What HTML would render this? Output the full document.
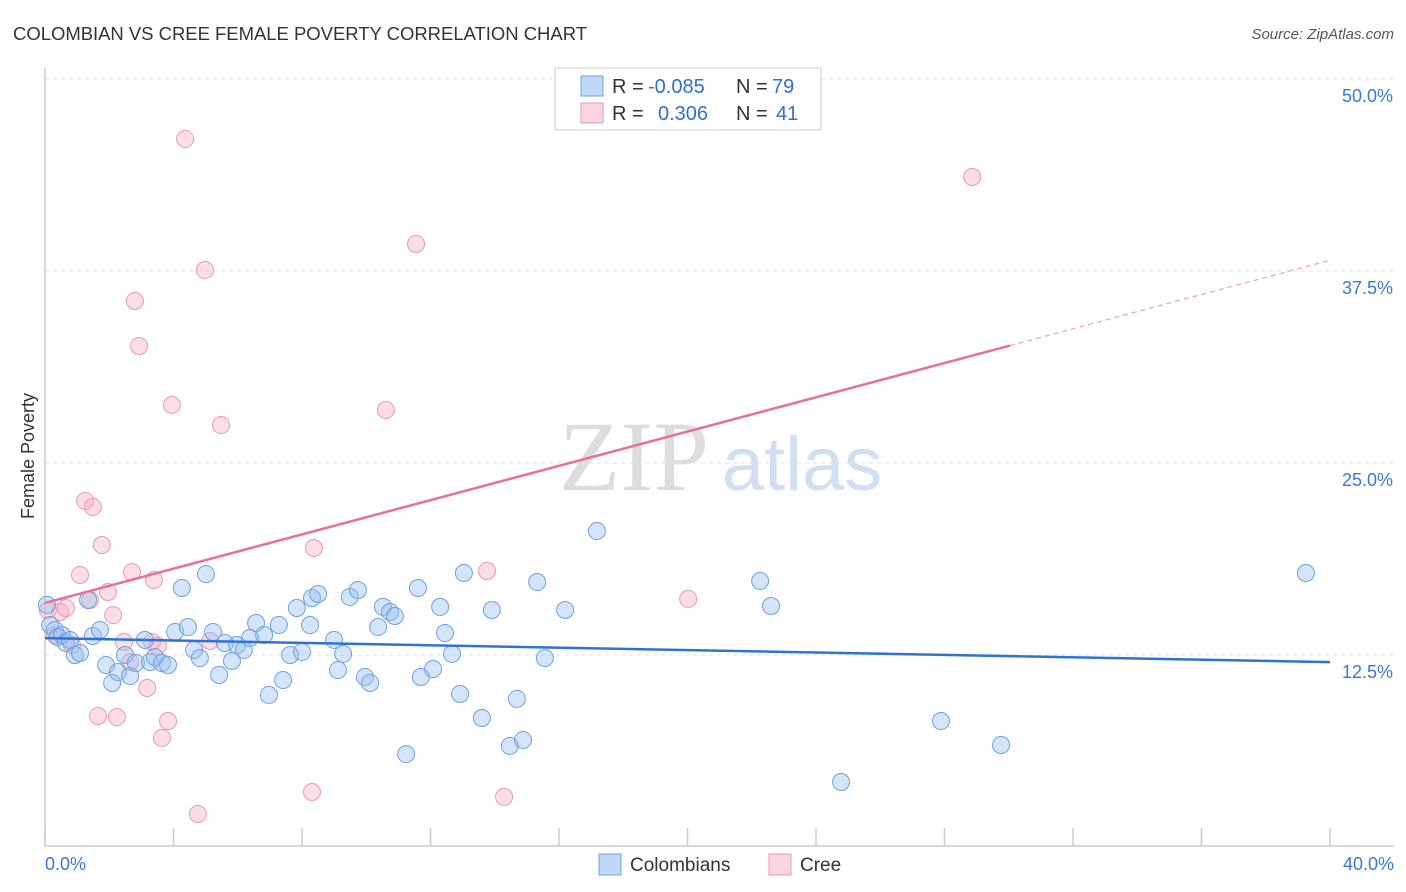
<!DOCTYPE html>
<html><head><meta charset="utf-8"><style>
body{margin:0;background:#fff;font-family:"Liberation Sans",sans-serif;}
svg{display:block}
</style></head><body>
<svg id="chart" width="1406" height="892">
<text x="13" y="40" font-size="18.5" fill="#333" textLength="574">COLOMBIAN VS CREE FEMALE POVERTY CORRELATION CHART</text>
<text x="1394" y="39" font-size="15" fill="#555" font-style="italic" text-anchor="end">Source: ZipAtlas.com</text>
<text transform="translate(34,456) rotate(-90)" font-size="18" fill="#333" text-anchor="middle">Female Poverty</text>
<g><text x="634" y="490" font-size="100" font-family="Liberation Serif,serif" fill="#ddd" text-anchor="middle">ZIP</text><text x="802" y="490" font-size="76" fill="#cfe0f3" text-anchor="middle">atlas</text></g>
<g id="grid"></g><g id="axes"></g><g id="marks"></g>
<g>
<rect x="555" y="68" width="266" height="62" fill="#fff" stroke="#ccc"/>
<rect x="581" y="76" width="22" height="20" fill="rgba(147,190,240,0.6)" stroke="#6fa0e0"/>
<rect x="581" y="103" width="22" height="20" fill="rgba(244,170,195,0.5)" stroke="#e89ab3"/>
<g font-size="20" fill="#333">
<text x="612" y="93">R =</text><text x="648" y="93" fill="#2f6fce">-0.085</text><text x="736" y="93">N =</text><text x="772" y="93" fill="#2f6fce">79</text>
<text x="612" y="120">R =</text><text x="658" y="120" fill="#2f6fce">0.306</text><text x="736" y="120">N =</text><text x="776" y="120" fill="#2f6fce">41</text>
</g>
</g>
<g>
<rect x="599" y="854" width="22" height="21" fill="rgba(147,190,240,0.6)" stroke="#6fa0e0"/>
<text x="630" y="871" font-size="19" fill="#333">Colombians</text>
<rect x="769" y="854" width="22" height="21" fill="rgba(244,170,195,0.5)" stroke="#e89ab3"/>
<text x="800" y="871" font-size="19" fill="#333">Cree</text>
</g>
</svg>
<script>
const yTicks=[12.5,25,37.5,50];
const yTickLabels=["12.5%","25.0%","37.5%","50.0%"];
const xEnds=[0,40];
const xEndLabels=["0.0%","40.0%"];
const blueX=[0.06,0.16,0.31,0.40,0.53,0.65,0.78,0.93,1.09,1.34,1.49,1.71,1.90,2.09,2.27,2.49,2.65,2.83,3.11,3.27,3.42,3.64,3.83,4.05,4.26,4.45,4.64,4.82,5.01,5.23,5.42,5.60,5.82,5.98,6.19,6.38,6.57,6.82,6.97,7.28,7.41,7.63,7.84,8.00,8.25,8.31,8.50,9.00,9.12,9.28,9.49,9.74,9.96,10.12,10.37,10.52,10.74,10.89,11.24,11.61,11.70,12.08,12.30,12.45,12.67,12.92,13.04,13.60,13.91,14.47,14.69,14.88,15.32,15.56,16.19,17.18,22.26,22.60,24.78,27.89,29.76,39.25];
const blueY=[15.76,14.45,14.13,13.67,13.80,13.28,13.48,12.5,12.63,16.08,13.74,14.13,11.85,10.68,11.39,12.5,11.13,11.98,13.48,12.04,12.37,11.98,11.85,14.00,16.86,14.32,12.83,12.30,17.77,14.00,11.20,13.28,12.11,13.15,12.83,13.61,14.58,13.80,9.90,14.45,10.87,12.5,15.56,12.70,14.45,16.21,16.47,13.48,11.52,12.57,16.28,16.73,11.07,10.68,14.32,15.63,15.30,15.04,6.05,16.86,11.07,11.59,15.63,13.93,12.57,9.96,17.84,8.40,15.43,6.58,9.64,6.97,17.25,12.30,15.43,20.57,17.32,15.69,4.23,8.20,6.64,17.84];
const pinkX=[0.09,0.31,0.47,0.65,0.84,1.09,1.25,1.49,1.40,1.65,1.77,1.96,2.12,2.24,2.46,2.65,2.71,2.80,2.93,3.18,3.33,3.39,3.52,3.64,3.83,3.95,4.36,4.76,4.98,5.14,5.48,8.31,8.37,10.61,11.55,13.76,14.29,20.02,28.86];
const pinkY=[15.43,13.80,15.30,15.56,13.15,17.71,22.53,22.14,16.08,8.53,19.66,16.60,15.10,8.46,13.35,12.04,17.90,35.55,32.62,10.35,13.35,17.38,13.09,7.10,8.20,28.78,46.09,2.15,37.57,13.41,27.47,3.58,19.47,28.45,39.26,17.97,3.26,16.15,43.62];
const blueTrend=[13.6,12.04];
const pinkTrend=[15.89,38.2];
const pinkSolidEnd=30.04;

const NS="http://www.w3.org/2000/svg";
const X0=45,X1=1330,YB=847;
const sx=v=>X0+(v/40)*(X1-X0);
const sy=v=>YB-v*15.36;
function mk(tag,attrs,parent){const e=document.createElementNS(NS,tag);for(const k in attrs)e.setAttribute(k,attrs[k]);parent.appendChild(e);return e;}
const grid=document.getElementById('grid'),axes=document.getElementById('axes'),marks=document.getElementById('marks');
yTicks.forEach((t,i)=>{
  const l=mk('line',{x1:X0,x2:1394,y1:sy(t),y2:sy(t),stroke:'#e2e2e2','stroke-dasharray':'4,4'},grid);
  
  
  const tx=mk('text',{x:1393,y:sy(t)+23,'font-size':18,fill:'#3a78d0','text-anchor':'end'},axes);
  tx.textContent=yTickLabels[i];
  
  
});
const ya=mk('line',{x1:X0,x2:X0,y1:68,y2:846,stroke:'#ccc','stroke-width':1.5},axes);


const xa=mk('line',{x1:X0,x2:1394,y1:846,y2:846,stroke:'#ccc','stroke-width':1.5},axes);


for(let i=0;i<=10;i++){
  const t=mk('line',{x1:sx(i*4),x2:sx(i*4),y1:828,y2:846,stroke:'#ccc','stroke-width':1.5},axes);
  
  
}
xEnds.forEach((v,i)=>{
  const tx=mk('text',{x:i?1394:45,y:870,'font-size':18,fill:'#3a78d0','text-anchor':i?'end':'start'},axes);
  tx.textContent=xEndLabels[i];
  
  
});
pinkX.forEach((x,i)=>{
  const c=mk('circle',{cx:sx(x),cy:sy(pinkY[i]),r:8.5,fill:'rgba(244,170,195,0.4)',stroke:'#e89ab3','stroke-width':1},marks);
  
  
});
blueX.forEach((x,i)=>{
  const c=mk('circle',{cx:sx(x),cy:sy(blueY[i]),r:8.5,fill:'rgba(147,190,240,0.4)',stroke:'#6fa0e0','stroke-width':1},marks);
  
  
});
const bt=mk('line',{x1:sx(0),y1:sy(blueTrend[0]),x2:sx(40),y2:sy(blueTrend[1]),stroke:'#2f72d6','stroke-width':2.5},marks);


const pAt=x=>pinkTrend[0]+(pinkTrend[1]-pinkTrend[0])*x/40;
const pt=mk('line',{x1:sx(0),y1:sy(pAt(0)),x2:sx(pinkSolidEnd),y2:sy(pAt(pinkSolidEnd)),stroke:'#e8709a','stroke-width':2.5},marks);


const pd=mk('line',{x1:sx(pinkSolidEnd),y1:sy(pAt(pinkSolidEnd)),x2:sx(40),y2:sy(pAt(40)),stroke:'#e8a0b8','stroke-width':1.2,'stroke-dasharray':'5,4'},marks);


</script>
</body></html>
